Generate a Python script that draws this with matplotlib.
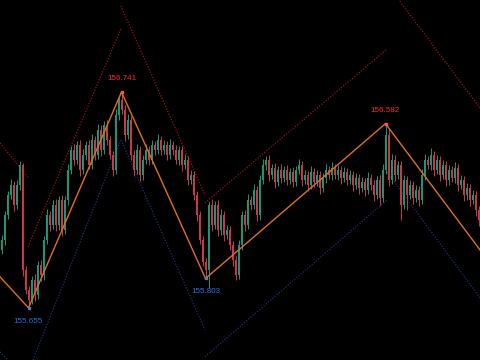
import matplotlib
matplotlib.use('Agg')
import matplotlib.pyplot as plt
import numpy as np

# price bars (open of each bar = previous close)
first_open = 155.947
closes = [
    155.997, 156.123, 156.224, 156.274, 156.173, 156.274, 156.374, 155.847, 155.746, 155.696,
    155.796, 155.721, 155.872, 155.821, 155.997, 156.123, 156.073, 156.173, 156.073, 156.198,
    156.048, 156.198, 156.349, 156.450, 156.400, 156.475, 156.349, 156.425, 156.475, 156.374,
    156.500, 156.425, 156.550, 156.450, 156.575, 156.500, 156.425, 156.349, 156.626, 156.701,
    156.651, 156.525, 156.601, 156.425, 156.349, 156.450, 156.324, 156.400, 156.450, 156.400,
    156.475, 156.450, 156.500, 156.450, 156.475, 156.425, 156.475, 156.450, 156.400, 156.450,
    156.374, 156.400, 156.299, 156.324, 156.224, 156.123, 155.997, 155.887, 155.847, 156.173,
    156.073, 156.173, 156.048, 156.123, 156.022, 156.048, 155.972, 155.897, 155.821, 155.972,
    156.123, 156.073, 156.198, 156.173, 156.249, 156.123, 156.299, 156.374, 156.400, 156.324,
    156.359, 156.289, 156.349, 156.309, 156.349, 156.299, 156.339, 156.289, 156.349, 156.374,
    156.299, 156.324, 156.274, 156.339, 156.289, 156.324, 156.259, 156.309, 156.349, 156.324,
    156.359, 156.324, 156.349, 156.309, 156.339, 156.299, 156.324, 156.274, 156.309, 156.259,
    156.289, 156.249, 156.309, 156.274, 156.224, 156.299, 156.208, 156.349, 156.525, 156.299,
    156.400, 156.324, 156.374, 156.173, 156.299, 156.224, 156.274, 156.208, 156.249, 156.198,
    156.324, 156.400, 156.374, 156.425, 156.349, 156.400, 156.324, 156.374, 156.299, 156.349,
    156.309, 156.359, 156.274, 156.299, 156.224, 156.259, 156.198, 156.224, 156.148, 156.098,
]
wick_up = [
    0.025, 0.020, 0.020, 0.030, 0.020, 0.025, 0.020, 0.010, 0.020, 0.020,
    0.020, 0.030, 0.020, 0.025, 0.020, 0.030, 0.020, 0.025, 0.030, 0.020,
    0.025, 0.020, 0.030, 0.020, 0.030, 0.020, 0.025, 0.030, 0.020, 0.025,
    0.030, 0.020, 0.030, 0.025, 0.020, 0.025, 0.020, 0.020, 0.030, 0.020,
    0.040, 0.025, 0.030, 0.020, 0.025, 0.030, 0.020, 0.025, 0.030, 0.020,
    0.025, 0.020, 0.030, 0.020, 0.025, 0.020, 0.030, 0.020, 0.025, 0.020,
    0.020, 0.030, 0.020, 0.025, 0.020, 0.020, 0.020, 0.020, 0.020, 0.020,
    0.030, 0.020, 0.025, 0.030, 0.020, 0.025, 0.020, 0.020, 0.020, 0.025,
    0.020, 0.025, 0.030, 0.020, 0.030, 0.020, 0.025, 0.030, 0.020, 0.025,
    0.020, 0.025, 0.020, 0.030, 0.020, 0.025, 0.020, 0.025, 0.020, 0.030,
    0.020, 0.025, 0.020, 0.030, 0.020, 0.025, 0.020, 0.025, 0.030, 0.020,
    0.030, 0.020, 0.025, 0.020, 0.025, 0.020, 0.025, 0.020, 0.025, 0.020,
    0.025, 0.020, 0.030, 0.020, 0.025, 0.020, 0.025, 0.030, 0.057, 0.030,
    0.030, 0.025, 0.020, 0.020, 0.025, 0.020, 0.025, 0.020, 0.025, 0.020,
    0.030, 0.030, 0.020, 0.035, 0.020, 0.025, 0.020, 0.025, 0.020, 0.025,
    0.020, 0.030, 0.020, 0.025, 0.020, 0.025, 0.020, 0.025, 0.020, 0.020,
]
wick_dn = [
    0.020, 0.025, 0.020, 0.020, 0.030, 0.020, 0.025, 0.030, 0.020, 0.041,
    0.020, 0.030, 0.020, 0.030, 0.025, 0.020, 0.030, 0.020, 0.030, 0.025,
    0.030, 0.020, 0.025, 0.020, 0.025, 0.020, 0.030, 0.020, 0.025, 0.020,
    0.020, 0.025, 0.020, 0.030, 0.020, 0.025, 0.020, 0.030, 0.020, 0.025,
    0.020, 0.030, 0.020, 0.025, 0.030, 0.020, 0.030, 0.025, 0.020, 0.025,
    0.020, 0.025, 0.020, 0.025, 0.020, 0.025, 0.020, 0.025, 0.020, 0.025,
    0.030, 0.020, 0.025, 0.020, 0.025, 0.030, 0.020, 0.020, 0.044, 0.090,
    0.030, 0.020, 0.030, 0.025, 0.030, 0.020, 0.025, 0.030, 0.025, 0.020,
    0.025, 0.030, 0.020, 0.025, 0.020, 0.030, 0.025, 0.020, 0.025, 0.030,
    0.020, 0.030, 0.020, 0.025, 0.020, 0.025, 0.020, 0.025, 0.020, 0.020,
    0.030, 0.020, 0.030, 0.020, 0.025, 0.020, 0.030, 0.020, 0.025, 0.020,
    0.025, 0.020, 0.025, 0.030, 0.020, 0.025, 0.020, 0.030, 0.020, 0.030,
    0.020, 0.030, 0.020, 0.025, 0.030, 0.020, 0.035, 0.020, 0.020, 0.030,
    0.020, 0.030, 0.020, 0.075, 0.020, 0.076, 0.020, 0.030, 0.020, 0.030,
    0.020, 0.025, 0.020, 0.025, 0.030, 0.020, 0.030, 0.020, 0.030, 0.025,
    0.020, 0.025, 0.030, 0.020, 0.030, 0.025, 0.030, 0.020, 0.030, 0.030,
]

# zigzag turning points (bar index, price)
zz_idx = [-8, 9, 40, 68, 128, 160]
zz_price = [155.935, 155.655, 156.741, 155.803, 156.582, 155.937]
label_idx = [9, 40, 68, 128]
label_txt = ['155.655', '156.741', '155.803', '156.582']
label_is_high = [False, True, False, True]

# channel lines: (start idx, start price, end idx, end price)
upper_ch = [(-0.5, 156.485, 9, 156.309),
            (8.8, 155.962, 39.8, 157.058),
            (39.8, 157.174, 67.8, 156.224),
            (67.8, 156.183, 128.2, 156.953),
            (128.2, 157.289, 159.5, 156.661)]
lower_ch = [(-0.5, 155.434, 2.5, 155.384),
            (10.5, 155.394, 39.8, 156.500),
            (39.8, 156.500, 67.8, 155.545),
            (67.8, 155.409, 128.5, 156.198),
            (128.5, 156.339, 159.5, 155.706)]

closes = np.array(closes)
opens = np.concatenate([[first_open], closes[:-1]])
highs = np.maximum(opens, closes) + np.array(wick_up)
lows = np.minimum(opens, closes) - np.array(wick_dn)
x = np.arange(len(closes))
up = closes >= opens

green = '#1a9878'
red = '#cf3848'

fig = plt.figure(figsize=(4.8, 3.6), dpi=100, facecolor='black')
ax = fig.add_axes([0, 0, 1, 1], facecolor='black')

cols = np.where(up, green, red)
ax.vlines(x, lows, highs, colors=cols, linewidth=0.7, zorder=2)
ax.bar(x, np.abs(closes - opens), bottom=np.minimum(opens, closes),
       width=0.62, color=cols, linewidth=0, zorder=3)

for x0, p0, x1, p1 in upper_ch:
    ax.plot([x0, x1], [p0, p1], color='#9a1414', lw=0.9, ls=(0, (1, 1.3)), zorder=1)
for x0, p0, x1, p1 in lower_ch:
    ax.plot([x0, x1], [p0, p1], color='#1d3178', lw=0.9, ls=(0, (1, 1.3)), zorder=1)

ax.plot(zz_idx, zz_price, color='#e0701e', lw=1.0, zorder=4)

for i, txt, hi in zip(label_idx, label_txt, label_is_high):
    p = zz_price[zz_idx.index(i)]
    c = '#ff2a2a' if hi else '#2f6fe0'
    ax.plot(i, p, marker='s', ms=2.0, color='#ff5a3a' if hi else '#5a7ac8', zorder=5)
    ax.annotate(txt, (i, p), xytext=(0, 7 if hi else -7), textcoords='offset points',
                ha='center', va='bottom' if hi else 'top', color=c,
                fontsize=5.8, family='Liberation Sans')

ax.set_xlim(-0.5, 159.5)
ax.set_ylim(155.393, 157.204)
ax.axis('off')

plt.savefig('out.png', dpi=100, facecolor='black')
